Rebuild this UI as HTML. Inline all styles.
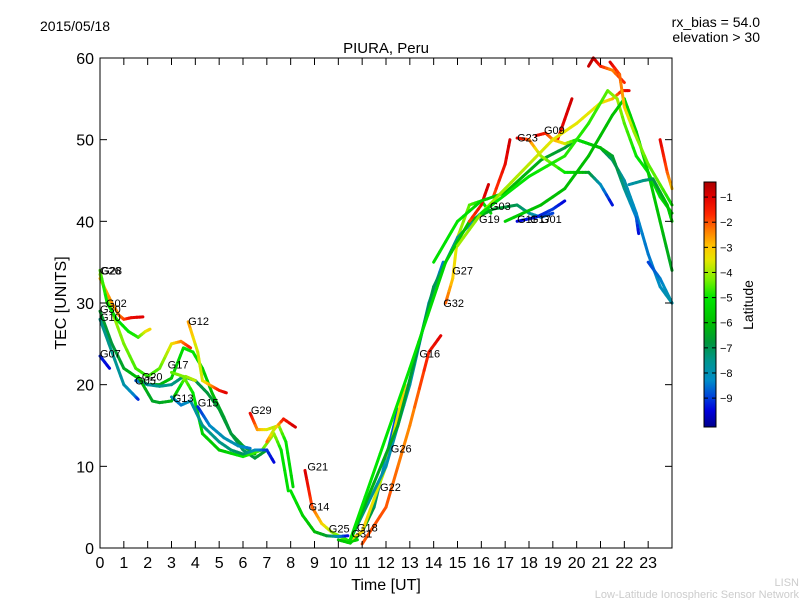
<!DOCTYPE html>
<html><head><meta charset="utf-8"><style>
html,body{margin:0;padding:0;background:#fff;}
svg{display:block;font-family:"Liberation Sans","DejaVu Sans",sans-serif;}
</style></head><body>
<svg id="chart" width="800" height="600" viewBox="0 0 800 600" xmlns="http://www.w3.org/2000/svg">
<defs>
<linearGradient id="jet" x1="0" y1="1" x2="0" y2="0"></linearGradient>
</defs>
<text x="40" y="31" font-size="14">2015/05/18</text>
<text x="760" y="27" font-size="14" text-anchor="end">rx_bias = 54.0</text>
<text x="760" y="42" font-size="14" text-anchor="end">elevation &gt; 30</text>
<text x="386" y="53" font-size="15" text-anchor="middle">PIURA, Peru</text>
<g id="tracks"></g>
<g id="labels" font-size="11"></g>
<rect x="100" y="58" width="572" height="490" fill="none" stroke="#000" stroke-width="1"/>
<g id="axes"></g>
<text x="386" y="590" font-size="16" text-anchor="middle">Time [UT]</text>
<text transform="translate(66,303) rotate(-90)" font-size="16" text-anchor="middle">TEC [UNITS]</text>
<rect x="704" y="182" width="12" height="245" fill="url(#jet)" stroke="#000" stroke-width="1"/>
<g id="cbticks" font-size="11"></g>
<text transform="translate(753,305) rotate(-90)" font-size="14" text-anchor="middle">Latitude</text>
<text x="799" y="586" font-size="11" fill="#ccc" text-anchor="end">LISN</text>
<text x="799" y="598" font-size="11" fill="#ccc" text-anchor="end">Low-Latitude Ionospheric Sensor Network</text>
</svg>
<script>
const xTicks=[0,1,2,3,4,5,6,7,8,9,10,11,12,13,14,15,16,17,18,19,20,21,22,23];
const yTicks=[0,10,20,30,40,50,60];
const cbTicks=[-1,-2,-3,-4,-5,-6,-7,-8,-9];
const trackTimes=[
[0,0.5,1,1.5,2,2.5,3,3.4,3.8],
[0,0.5,0.8,1,1.3,1.8],
[0,0.3,0.7,1.2,1.6,1.9,2.1],
[0,0.5,1,1.5,2,2.5,3,3.5,3.9,4.3,4.7,5.2,5.5,6,6.5,7],
[0,0.4],
[0,0.5,1,1.5,1.6],
[1.5,2,2.5,3,3.5,4,4.5,5,5.5,6,6.5],
[1.6,2.2,2.5,3,3.3,3.6,4],
[3.7,4.1,4.3,4.7,5,5.3],
[3,3.5,3.9,4.3,5,6,6.8,7.3,7.6,7.9],
[3,3.4,3.8,4.3,5,5.5,6,6.5,7,7.3],
[4.1,4.6,5.2,5.8,6.3],
[6.3,6.6,7,7.5,7.8,8.1],
[7,7.3,7.7,8.2],
[8.6,8.9,9.3,9.7,10.2,10.5,10.8],
[8,8.5,9,9.5,10,10.4],
[10,10.5,11,11.5,12,12.5],
[10.5,11,12,12.8],
[11,12,13,13.8,14.3],
[14.5,14.8,15,15.5,16,16.4],
[10.5,12,13,13.8,14.4],
[10.5,12.5,14,15,15.8,16.3],
[10.5,13,14.5,15.5,16.5,17.5,18,18.5,19],
[17.5,18.3,19,19.5],
[15.5,16,16.3],
[16.5,17,17.2],
[19.2,19.5,19.8],
[14,15,16,17,18.5,19.5,20,21,21.5,22,22.5,23,23.5,24],
[17.5,18,18.5,19.5,20,20.5,21,21.5],
[18.3,18.7,19,19.5,20,20.5,21,21.5,22,22.5,22.6],
[15,16,17,18,19,20,21,21.5,21.9,22.2],
[16,18,19.5,20.5,21.3,21.7,22,22.5,23,23.5,24],
[17,18.5,19.5,20.5,21.5,22,22.5,23,23.5,24],
[20.5,20.7,21,21.5,22],
[21.4,21.8,22,22.4,23,23.5,24],
[23.5,23.8,24],
[22.2,22.8,23.2,23.8,24],
[23,23.5,24]
];
const trackTec=[
[33.5,29,25,22,21,22,25,25.3,24.5],
[33,30,28.5,28,28.2,28.3],
[34,30,28,26.5,25.8,26.5,26.8],
[29,25,22,21,20,20,20.8,24.5,24,22,19,16,14,12,11,12],
[23.5,22],
[28,24,20,18.5,18.2],
[20.5,20,19.8,20,21,20.5,19,17,14,12.5,11.5],
[21,18,17.8,18,19.5,21,20.5],
[27.7,24,20.5,19.8,19.3,19],
[21.5,21,19,14,12,11.2,12,14,12,7],
[18.5,17.5,18,15,13,12,11.5,12,12,10.5],
[17.3,15,13.5,12.5,12.2],
[16.5,14.5,14.5,15,13,7.5],
[13,14.5,15.8,14.8],
[9.5,5,3,2,1.2,0.8,1],
[7,4,2,1.5,1.4,1.5],
[1,0.6,2,5,11,17],
[1,2,10,20],
[0.5,5,15,24,26],
[30,33,38,42,42.5,41],
[1,10,20,30,35],
[1,15,32,38,40.5,41.8],
[1,22,35,40,41.5,42,41,40.5,41],
[40,40.5,41.5,42.5],
[40,42,44.5],
[43,47,50],
[50,52.5,55],
[35,40,42.5,43.5,47.5,49,50,49,47.5,45,41,36,32,30],
[50.2,50,48,46,46,46,44.5,42],
[50.5,50.8,50,49.5,50,49.5,49,48,44,40.5,38.5],
[37,41,44,47,50,52,54.5,55,56,56],
[41,45.5,48,52,56,55,52,48,46,43,41],
[40,42,44,48,53,55,51,46,40,34],
[59,60,59,58.5,57],
[59.5,58,54,51,47,44.5,42],
[50,46,44],
[44.5,45,45.2,42,40],
[35,33,30]
];
const trackLat=[
[-4,-4,-4.3,-4.6,-4.8,-4.5,-3.5,-2.5,-1.5],
[-3,-2.5,-2.4,-2,-1.2,-1],
[-4.5,-5,-5.2,-5,-4.8,-3.6,-3.2],
[-6.5,-6.8,-6.5,-6,-6.5,-6.4,-5.8,-5.2,-5,-5.5,-6,-6.5,-7,-7.2,-6.8,-6.5],
[-9.2,-9.5],
[-7.5,-7.5,-7.8,-8.5,-9.2],
[-8.8,-7.8,-7.5,-7.5,-7.2,-7,-6.8,-6.6,-6.8,-6.5,-6],
[-6,-6.5,-6.5,-6.3,-5.5,-4.2,-3.8],
[-2.5,-3.8,-3.6,-2.5,-1.5,-1],
[-4.5,-4.2,-5,-5.5,-5.8,-5,-4.5,-4,-5,-5.2],
[-8,-8.5,-8,-7.5,-7.5,-7.3,-7,-8,-9,-9.5],
[-9.3,-8.3,-8,-8,-8.5],
[-1,-2.5,-3.5,-4,-5,-5.5],
[-2,-4,-1.5,-0.8],
[-0.8,-2,-3,-4,-4.5,-5,-5.5],
[-5,-5.5,-6,-6.5,-8,-9.5],
[-6,-5.5,-6,-7,-8.5,-9],
[-4,-3,-4,-3],
[-2,-2,-2.5,-1.5,-1],
[-2,-3,-3.8,-4.5,-5,-5.5],
[-7,-8,-7.8,-8.3,-8.5],
[-6,-6.5,-7,-7.5,-8,-9.2],
[-5,-5,-5.5,-6,-6.5,-7,-7.5,-8.5,-9],
[-9.5,-9.3,-9,-9.5],
[-2,-1.2,-0.8],
[-2,-1.2,-0.8],
[-1.5,-1,-0.8],
[-5.2,-5,-5.5,-6,-6.3,-6.8,-6.5,-6.8,-7.2,-7.8,-8.3,-8.5,-8.2,-7.8],
[-1,-2,-4,-5,-5.5,-6.5,-8,-9.5],
[-1,-1.5,-2.5,-3.5,-5,-5.5,-6,-6.5,-7.5,-8.5,-9.5],
[-4,-4.2,-4,-3.8,-3.5,-3.5,-3.5,-3,-1.5,-1],
[-5,-5,-4.8,-4.8,-4.5,-4,-4.5,-5,-5,-5.2,-5.5],
[-5.5,-6,-6,-6,-6,-5.5,-5.5,-5.5,-6,-6.5],
[-0.8,-0.5,-1.5,-2.5,-1.5],
[-0.8,-2,-3,-4,-4.5,-4.5,-5],
[-1,-2,-3],
[-8,-7.5,-7,-6,-5.5],
[-9,-8.5,-7.8]
];
const labelNames=["G26","G28","G02","G30","G10","G07","G05","G20","G17","G12","G13","G15","G29","G21","G14","G25","G31","G18","G22","G26","G16","G32","G27","G19","G03","G11","G17","G01","G23","G09"];
const labelTimes=[0,0.05,0.25,0,0,0,1.47,1.75,2.84,3.7,3.05,4.1,6.33,8.7,8.75,9.6,10.55,10.78,11.75,12.2,13.4,14.4,14.78,15.9,16.36,17.5,18.04,18.5,17.5,18.63];
const labelTecs=[33.5,33.5,29.5,28.8,27.8,23.3,20,20.5,22,27.3,17.9,17.3,16.4,9.5,4.6,1.9,1.3,2,7,11.7,23.3,29.5,33.5,39.8,41.4,39.8,39.8,39.8,49.8,50.7];

const NS="http://www.w3.org/2000/svg";
const X0=100,X1=672,Y0=548,Y1=58;
function xs(t){return X0+(X1-X0)*t/24;}
function ys(v){return Y0-(Y0-Y1)*v/60;}
const CBMIN=-10.15,CBMAX=-0.4;
function cby(l){return 427-(427-182)*(l-CBMIN)/(CBMAX-CBMIN);}
const CM=[[-10.15,0,0,140],[-9.5,0,0,220],[-9,0,60,220],[-8.3,0,140,200],[-7.5,0,150,140],[-6.8,0,150,60],[-6,0,190,0],[-5,0,230,0],[-4.3,120,240,0],[-3.5,230,230,0],[-3,255,200,0],[-2.3,255,120,0],[-1.7,255,40,0],[-1,225,0,0],[-0.4,170,0,0]];
function jet(l){
 if(l<=CM[0][0])return `rgb(${CM[0][1]},${CM[0][2]},${CM[0][3]})`;
 for(let i=0;i<CM.length-1;i++){const a=CM[i],b=CM[i+1];
  if(l<=b[0]){const f=(l-a[0])/(b[0]-a[0]);
   return `rgb(${Math.round(a[1]+(b[1]-a[1])*f)},${Math.round(a[2]+(b[2]-a[2])*f)},${Math.round(a[3]+(b[3]-a[3])*f)})`;}}
 const z=CM[CM.length-1];return `rgb(${z[1]},${z[2]},${z[3]})`;}
const grad=document.getElementById('jet');
CM.forEach(c=>{const s=document.createElementNS(NS,'stop');
 s.setAttribute('offset',(c[0]-CBMIN)/(CBMAX-CBMIN));
 s.setAttribute('stop-color',`rgb(${c[1]},${c[2]},${c[3]})`);grad.appendChild(s);});

const tg=document.getElementById('tracks');
for(let i=0;i<trackTimes.length;i++){
 const T=trackTimes[i],V=trackTec[i],L=trackLat[i];
 const g=document.createElementNS(NS,'g');
 
 
 for(let j=0;j<T.length-1;j++){
  const sub=4;
  for(let k=0;k<sub;k++){
   const a=k/sub,b=(k+1)/sub;
   const ln=document.createElementNS(NS,'line');
   
   
   ln.setAttribute('x1',xs(T[j]+(T[j+1]-T[j])*a));
   ln.setAttribute('y1',ys(V[j]+(V[j+1]-V[j])*a));
   ln.setAttribute('x2',xs(T[j]+(T[j+1]-T[j])*b));
   ln.setAttribute('y2',ys(V[j]+(V[j+1]-V[j])*b));
   ln.setAttribute('stroke',jet(L[j]+(L[j+1]-L[j])*(a+b)/2));
   ln.setAttribute('stroke-width','3');
   ln.setAttribute('stroke-linecap','round');
   g.appendChild(ln);
  }
 }
 tg.appendChild(g);
}
const lg=document.getElementById('labels');
for(let i=0;i<labelNames.length;i++){
 const t=document.createElementNS(NS,'text');
 
 
 t.setAttribute('x',xs(labelTimes[i]));
 t.setAttribute('y',ys(labelTecs[i]));
 t.textContent=labelNames[i];
 lg.appendChild(t);
}
const ax=document.getElementById('axes');
function mk(tag,attrs,txt){const e=document.createElementNS(NS,tag);for(const k in attrs)e.setAttribute(k,attrs[k]);if(txt!==undefined)e.textContent=txt;ax.appendChild(e);return e;}
xTicks.forEach(v=>{const x=xs(v);
 const a=mk('line',{x1:x,x2:x,y1:Y0,y2:Y0-7,stroke:'#000'});
 const b=mk('line',{x1:x,x2:x,y1:Y1,y2:Y1+7,stroke:'#000'});
 const t=mk('text',{x:x,y:568,'font-size':16,'text-anchor':'middle'},String(v));
});
yTicks.forEach(v=>{const y=ys(v);
 const a=mk('line',{x1:X0,x2:X0+7,y1:y,y2:y,stroke:'#000'});
 const b=mk('line',{x1:X1,x2:X1-7,y1:y,y2:y,stroke:'#000'});
 const t=mk('text',{x:94,y:y+6,'font-size':16,'text-anchor':'end'},String(v));
});
const cb=document.getElementById('cbticks');
cbTicks.forEach(v=>{const y=cby(v);
 const l=document.createElementNS(NS,'line');
 
 
 l.setAttribute('x1',716);l.setAttribute('x2',712);l.setAttribute('y1',y);l.setAttribute('y2',y);l.setAttribute('stroke','#000');
 cb.appendChild(l);
 const l2=document.createElementNS(NS,'line');
 
 
 l2.setAttribute('x1',704);l2.setAttribute('x2',708);l2.setAttribute('y1',y);l2.setAttribute('y2',y);l2.setAttribute('stroke','#000');
 cb.appendChild(l2);
 const t=document.createElementNS(NS,'text');
 
 
 t.setAttribute('x',720);t.setAttribute('y',y+4);t.textContent='\u2212'+Math.abs(v);
 cb.appendChild(t);
});
</script>
</body></html>
